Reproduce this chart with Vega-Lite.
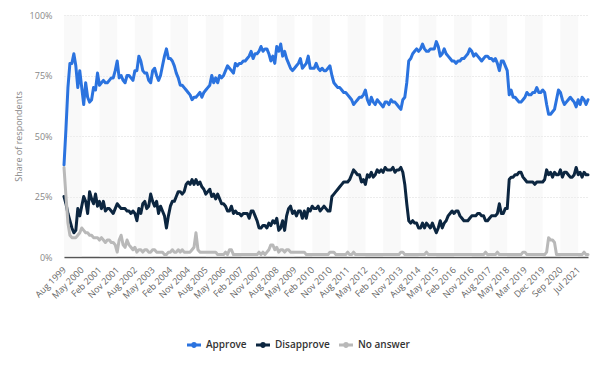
{
"$schema":"https://vega.github.io/schema/vega-lite/v6.json",
"width":524,"height":242,
"autosize":{"type":"none"},
"padding":{"left":64,"top":15,"right":12,"bottom":109},
"background":"white",
"config":{"view":{"stroke":null},"font":"Open Sans"},
"resolve":{"axis":{"x":"independent","y":"independent"}},
"datasets":{
"bands":[
{"from":"Aug 1999","to":"May 2000"},{"from":"Feb 2001","to":"Nov 2001"},{"from":"Aug 2002","to":"May 2003"},{"from":"Feb 2004","to":"Nov 2004"},{"from":"Aug 2005","to":"May 2006"},{"from":"Feb 2007","to":"Nov 2007"},{"from":"Aug 2008","to":"May 2009"},{"from":"Feb 2010","to":"Nov 2010"},{"from":"Aug 2011","to":"May 2012"},{"from":"Feb 2013","to":"Nov 2013"},{"from":"Aug 2014","to":"May 2015"},{"from":"Feb 2016","to":"Nov 2016"},{"from":"Aug 2017","to":"May 2018"},{"from":"Mar 2019","to":"Dec 2019"},{"from":"Sep 2020","to":"Jul 2021"}],
"approval":[
{"m":"Aug 1999","Approve":38,"Disapprove":25,"No answer":37},
{"m":"Sep 1999","Approve":53,"Disapprove":22,"No answer":25},
{"m":"Oct 1999","Approve":70,"Disapprove":18,"No answer":14},
{"m":"Nov 1999","Approve":80,"Disapprove":15,"No answer":9},
{"m":"Dec 1999","Approve":80,"Disapprove":12,"No answer":8},
{"m":"Jan 2000","Approve":84,"Disapprove":10,"No answer":8},
{"m":"Feb 2000","Approve":79,"Disapprove":11,"No answer":8},
{"m":"Mar 2000","Approve":70,"Disapprove":20,"No answer":9},
{"m":"Apr 2000","Approve":77,"Disapprove":17,"No answer":10},
{"m":"May 2000","Approve":70,"Disapprove":21,"No answer":12},
{"m":"Jun 2000","Approve":63,"Disapprove":25,"No answer":11},
{"m":"Jul 2000","Approve":72,"Disapprove":23,"No answer":10},
{"m":"Aug 2000","Approve":66,"Disapprove":18,"No answer":10},
{"m":"Sep 2000","Approve":64,"Disapprove":27,"No answer":9},
{"m":"Oct 2000","Approve":65,"Disapprove":24,"No answer":9},
{"m":"Nov 2000","Approve":70,"Disapprove":22,"No answer":8},
{"m":"Dec 2000","Approve":69,"Disapprove":26,"No answer":8},
{"m":"Jan 2001","Approve":76,"Disapprove":21,"No answer":8},
{"m":"Feb 2001","Approve":71,"Disapprove":23,"No answer":7},
{"m":"Mar 2001","Approve":72,"Disapprove":20,"No answer":8},
{"m":"Apr 2001","Approve":73,"Disapprove":23,"No answer":7},
{"m":"May 2001","Approve":72,"Disapprove":19,"No answer":6},
{"m":"Jun 2001","Approve":72,"Disapprove":20,"No answer":7},
{"m":"Jul 2001","Approve":73,"Disapprove":20,"No answer":7},
{"m":"Aug 2001","Approve":74,"Disapprove":19,"No answer":6},
{"m":"Sep 2001","Approve":74,"Disapprove":18,"No answer":6},
{"m":"Oct 2001","Approve":77,"Disapprove":20,"No answer":5},
{"m":"Nov 2001","Approve":81,"Disapprove":22,"No answer":2},
{"m":"Dec 2001","Approve":74,"Disapprove":21,"No answer":7},
{"m":"Jan 2002","Approve":75,"Disapprove":20,"No answer":9},
{"m":"Feb 2002","Approve":73,"Disapprove":20,"No answer":5},
{"m":"Mar 2002","Approve":72,"Disapprove":20,"No answer":4},
{"m":"Apr 2002","Approve":75,"Disapprove":19,"No answer":7},
{"m":"May 2002","Approve":75,"Disapprove":19,"No answer":5},
{"m":"Jun 2002","Approve":74,"Disapprove":18,"No answer":4},
{"m":"Jul 2002","Approve":73,"Disapprove":19,"No answer":3},
{"m":"Aug 2002","Approve":77,"Disapprove":18,"No answer":4},
{"m":"Sep 2002","Approve":77,"Disapprove":15,"No answer":2},
{"m":"Oct 2002","Approve":83,"Disapprove":20,"No answer":3},
{"m":"Nov 2002","Approve":81,"Disapprove":18,"No answer":3},
{"m":"Dec 2002","Approve":77,"Disapprove":22,"No answer":2},
{"m":"Jan 2003","Approve":76,"Disapprove":23,"No answer":3},
{"m":"Feb 2003","Approve":76,"Disapprove":20,"No answer":3},
{"m":"Mar 2003","Approve":73,"Disapprove":21,"No answer":2},
{"m":"Apr 2003","Approve":72,"Disapprove":26,"No answer":2},
{"m":"May 2003","Approve":77,"Disapprove":23,"No answer":3},
{"m":"Jun 2003","Approve":78,"Disapprove":21,"No answer":3},
{"m":"Jul 2003","Approve":75,"Disapprove":23,"No answer":2},
{"m":"Aug 2003","Approve":73,"Disapprove":18,"No answer":2},
{"m":"Sep 2003","Approve":75,"Disapprove":21,"No answer":2},
{"m":"Oct 2003","Approve":79,"Disapprove":19,"No answer":2},
{"m":"Nov 2003","Approve":83,"Disapprove":17,"No answer":1},
{"m":"Dec 2003","Approve":86,"Disapprove":12,"No answer":1},
{"m":"Jan 2004","Approve":82,"Disapprove":17,"No answer":2},
{"m":"Feb 2004","Approve":82,"Disapprove":21,"No answer":2},
{"m":"Mar 2004","Approve":81,"Disapprove":23,"No answer":3},
{"m":"Apr 2004","Approve":79,"Disapprove":23,"No answer":2},
{"m":"May 2004","Approve":76,"Disapprove":25,"No answer":2},
{"m":"Jun 2004","Approve":74,"Disapprove":27,"No answer":3},
{"m":"Jul 2004","Approve":71,"Disapprove":27,"No answer":2},
{"m":"Aug 2004","Approve":71,"Disapprove":26,"No answer":3},
{"m":"Sep 2004","Approve":70,"Disapprove":27,"No answer":2},
{"m":"Oct 2004","Approve":69,"Disapprove":30,"No answer":2},
{"m":"Nov 2004","Approve":68,"Disapprove":31,"No answer":2},
{"m":"Dec 2004","Approve":67,"Disapprove":30,"No answer":2},
{"m":"Jan 2005","Approve":65,"Disapprove":32,"No answer":3},
{"m":"Feb 2005","Approve":66,"Disapprove":30,"No answer":4},
{"m":"Mar 2005","Approve":66,"Disapprove":32,"No answer":10},
{"m":"Apr 2005","Approve":67,"Disapprove":30,"No answer":3},
{"m":"May 2005","Approve":68,"Disapprove":31,"No answer":2},
{"m":"Jun 2005","Approve":66,"Disapprove":29,"No answer":2},
{"m":"Jul 2005","Approve":68,"Disapprove":28,"No answer":2},
{"m":"Aug 2005","Approve":69,"Disapprove":26,"No answer":2},
{"m":"Sep 2005","Approve":70,"Disapprove":27,"No answer":2},
{"m":"Oct 2005","Approve":71,"Disapprove":28,"No answer":2},
{"m":"Nov 2005","Approve":75,"Disapprove":25,"No answer":2},
{"m":"Dec 2005","Approve":72,"Disapprove":26,"No answer":2},
{"m":"Jan 2006","Approve":74,"Disapprove":24,"No answer":2},
{"m":"Feb 2006","Approve":72,"Disapprove":26,"No answer":1},
{"m":"Mar 2006","Approve":75,"Disapprove":24,"No answer":1},
{"m":"Apr 2006","Approve":74,"Disapprove":22,"No answer":1},
{"m":"May 2006","Approve":75,"Disapprove":22,"No answer":1},
{"m":"Jun 2006","Approve":77,"Disapprove":21,"No answer":2},
{"m":"Jul 2006","Approve":79,"Disapprove":19,"No answer":1},
{"m":"Aug 2006","Approve":78,"Disapprove":19,"No answer":3},
{"m":"Sep 2006","Approve":77,"Disapprove":21,"No answer":3},
{"m":"Oct 2006","Approve":76,"Disapprove":18,"No answer":1},
{"m":"Nov 2006","Approve":80,"Disapprove":19,"No answer":1},
{"m":"Dec 2006","Approve":79,"Disapprove":18,"No answer":1},
{"m":"Jan 2007","Approve":80,"Disapprove":18,"No answer":1},
{"m":"Feb 2007","Approve":80,"Disapprove":17,"No answer":1},
{"m":"Mar 2007","Approve":81,"Disapprove":18,"No answer":1},
{"m":"Apr 2007","Approve":81,"Disapprove":18,"No answer":1},
{"m":"May 2007","Approve":82,"Disapprove":18,"No answer":1},
{"m":"Jun 2007","Approve":83,"Disapprove":16,"No answer":1},
{"m":"Jul 2007","Approve":85,"Disapprove":19,"No answer":1},
{"m":"Aug 2007","Approve":82,"Disapprove":19,"No answer":1},
{"m":"Sep 2007","Approve":84,"Disapprove":17,"No answer":1},
{"m":"Oct 2007","Approve":84,"Disapprove":15,"No answer":1},
{"m":"Nov 2007","Approve":85,"Disapprove":12,"No answer":2},
{"m":"Dec 2007","Approve":87,"Disapprove":12,"No answer":1},
{"m":"Jan 2008","Approve":85,"Disapprove":13,"No answer":2},
{"m":"Feb 2008","Approve":86,"Disapprove":13,"No answer":1},
{"m":"Mar 2008","Approve":86,"Disapprove":12,"No answer":2},
{"m":"Apr 2008","Approve":84,"Disapprove":14,"No answer":3},
{"m":"May 2008","Approve":81,"Disapprove":13,"No answer":5},
{"m":"Jun 2008","Approve":83,"Disapprove":15,"No answer":5},
{"m":"Jul 2008","Approve":80,"Disapprove":14,"No answer":3},
{"m":"Aug 2008","Approve":87,"Disapprove":16,"No answer":4},
{"m":"Sep 2008","Approve":85,"Disapprove":11,"No answer":2},
{"m":"Oct 2008","Approve":88,"Disapprove":12,"No answer":3},
{"m":"Nov 2008","Approve":83,"Disapprove":15,"No answer":3},
{"m":"Dec 2008","Approve":85,"Disapprove":11,"No answer":2},
{"m":"Jan 2009","Approve":82,"Disapprove":17,"No answer":3},
{"m":"Feb 2009","Approve":80,"Disapprove":20,"No answer":3},
{"m":"Mar 2009","Approve":78,"Disapprove":21,"No answer":2},
{"m":"Apr 2009","Approve":77,"Disapprove":18,"No answer":2},
{"m":"May 2009","Approve":78,"Disapprove":19,"No answer":2},
{"m":"Jun 2009","Approve":79,"Disapprove":17,"No answer":2},
{"m":"Jul 2009","Approve":80,"Disapprove":19,"No answer":2},
{"m":"Aug 2009","Approve":82,"Disapprove":19,"No answer":2},
{"m":"Sep 2009","Approve":78,"Disapprove":16,"No answer":2},
{"m":"Oct 2009","Approve":79,"Disapprove":19,"No answer":2},
{"m":"Nov 2009","Approve":80,"Disapprove":16,"No answer":1},
{"m":"Dec 2009","Approve":83,"Disapprove":20,"No answer":1},
{"m":"Jan 2010","Approve":78,"Disapprove":19,"No answer":1},
{"m":"Feb 2010","Approve":78,"Disapprove":21,"No answer":1},
{"m":"Mar 2010","Approve":78,"Disapprove":20,"No answer":1},
{"m":"Apr 2010","Approve":80,"Disapprove":20,"No answer":1},
{"m":"May 2010","Approve":78,"Disapprove":21,"No answer":1},
{"m":"Jun 2010","Approve":77,"Disapprove":19,"No answer":1},
{"m":"Jul 2010","Approve":78,"Disapprove":20,"No answer":1},
{"m":"Aug 2010","Approve":77,"Disapprove":21,"No answer":1},
{"m":"Sep 2010","Approve":77,"Disapprove":20,"No answer":1},
{"m":"Oct 2010","Approve":78,"Disapprove":19,"No answer":1},
{"m":"Nov 2010","Approve":79,"Disapprove":19,"No answer":2},
{"m":"Dec 2010","Approve":75,"Disapprove":25,"No answer":2},
{"m":"Jan 2011","Approve":72,"Disapprove":26,"No answer":2},
{"m":"Feb 2011","Approve":71,"Disapprove":27,"No answer":1},
{"m":"Mar 2011","Approve":70,"Disapprove":28,"No answer":1},
{"m":"Apr 2011","Approve":70,"Disapprove":29,"No answer":1},
{"m":"May 2011","Approve":69,"Disapprove":30,"No answer":1},
{"m":"Jun 2011","Approve":68,"Disapprove":31,"No answer":1},
{"m":"Jul 2011","Approve":68,"Disapprove":31,"No answer":1},
{"m":"Aug 2011","Approve":67,"Disapprove":31,"No answer":2},
{"m":"Sep 2011","Approve":66,"Disapprove":32,"No answer":1},
{"m":"Oct 2011","Approve":65,"Disapprove":34,"No answer":1},
{"m":"Nov 2011","Approve":63,"Disapprove":36,"No answer":2},
{"m":"Dec 2011","Approve":64,"Disapprove":35,"No answer":1},
{"m":"Jan 2012","Approve":65,"Disapprove":34,"No answer":1},
{"m":"Feb 2012","Approve":66,"Disapprove":34,"No answer":1},
{"m":"Mar 2012","Approve":66,"Disapprove":31,"No answer":1},
{"m":"Apr 2012","Approve":67,"Disapprove":32,"No answer":1},
{"m":"May 2012","Approve":69,"Disapprove":30,"No answer":1},
{"m":"Jun 2012","Approve":65,"Disapprove":34,"No answer":1},
{"m":"Jul 2012","Approve":63,"Disapprove":33,"No answer":1},
{"m":"Aug 2012","Approve":66,"Disapprove":35,"No answer":1},
{"m":"Sep 2012","Approve":64,"Disapprove":33,"No answer":1},
{"m":"Oct 2012","Approve":63,"Disapprove":34,"No answer":1},
{"m":"Nov 2012","Approve":65,"Disapprove":36,"No answer":1},
{"m":"Dec 2012","Approve":64,"Disapprove":35,"No answer":1},
{"m":"Jan 2013","Approve":63,"Disapprove":36,"No answer":1},
{"m":"Feb 2013","Approve":62,"Disapprove":35,"No answer":1},
{"m":"Mar 2013","Approve":64,"Disapprove":37,"No answer":1},
{"m":"Apr 2013","Approve":64,"Disapprove":36,"No answer":1},
{"m":"May 2013","Approve":63,"Disapprove":36,"No answer":1},
{"m":"Jun 2013","Approve":65,"Disapprove":36,"No answer":1},
{"m":"Jul 2013","Approve":64,"Disapprove":37,"No answer":1},
{"m":"Aug 2013","Approve":64,"Disapprove":35,"No answer":1},
{"m":"Sep 2013","Approve":63,"Disapprove":36,"No answer":1},
{"m":"Oct 2013","Approve":62,"Disapprove":36,"No answer":1},
{"m":"Nov 2013","Approve":61,"Disapprove":37,"No answer":2},
{"m":"Dec 2013","Approve":65,"Disapprove":35,"No answer":2},
{"m":"Jan 2014","Approve":66,"Disapprove":30,"No answer":1},
{"m":"Feb 2014","Approve":72,"Disapprove":22,"No answer":1},
{"m":"Mar 2014","Approve":81,"Disapprove":15,"No answer":1},
{"m":"Apr 2014","Approve":82,"Disapprove":14,"No answer":1},
{"m":"May 2014","Approve":84,"Disapprove":15,"No answer":1},
{"m":"Jun 2014","Approve":85,"Disapprove":14,"No answer":1},
{"m":"Jul 2014","Approve":86,"Disapprove":14,"No answer":1},
{"m":"Aug 2014","Approve":85,"Disapprove":12,"No answer":1},
{"m":"Sep 2014","Approve":86,"Disapprove":12,"No answer":1},
{"m":"Oct 2014","Approve":88,"Disapprove":14,"No answer":1},
{"m":"Nov 2014","Approve":86,"Disapprove":12,"No answer":1},
{"m":"Dec 2014","Approve":85,"Disapprove":14,"No answer":2},
{"m":"Jan 2015","Approve":85,"Disapprove":13,"No answer":1},
{"m":"Feb 2015","Approve":86,"Disapprove":12,"No answer":1},
{"m":"Mar 2015","Approve":86,"Disapprove":14,"No answer":1},
{"m":"Apr 2015","Approve":86,"Disapprove":12,"No answer":1},
{"m":"May 2015","Approve":89,"Disapprove":10,"No answer":1},
{"m":"Jun 2015","Approve":87,"Disapprove":12,"No answer":1},
{"m":"Jul 2015","Approve":83,"Disapprove":15,"No answer":1},
{"m":"Aug 2015","Approve":84,"Disapprove":12,"No answer":1},
{"m":"Sep 2015","Approve":86,"Disapprove":14,"No answer":1},
{"m":"Oct 2015","Approve":84,"Disapprove":15,"No answer":1},
{"m":"Nov 2015","Approve":83,"Disapprove":17,"No answer":1},
{"m":"Dec 2015","Approve":82,"Disapprove":18,"No answer":1},
{"m":"Jan 2016","Approve":81,"Disapprove":19,"No answer":1},
{"m":"Feb 2016","Approve":81,"Disapprove":18,"No answer":1},
{"m":"Mar 2016","Approve":80,"Disapprove":19,"No answer":1},
{"m":"Apr 2016","Approve":81,"Disapprove":19,"No answer":1},
{"m":"May 2016","Approve":81,"Disapprove":17,"No answer":1},
{"m":"Jun 2016","Approve":82,"Disapprove":16,"No answer":1},
{"m":"Jul 2016","Approve":82,"Disapprove":15,"No answer":1},
{"m":"Aug 2016","Approve":83,"Disapprove":15,"No answer":1},
{"m":"Sep 2016","Approve":84,"Disapprove":15,"No answer":1},
{"m":"Oct 2016","Approve":86,"Disapprove":16,"No answer":1},
{"m":"Nov 2016","Approve":85,"Disapprove":17,"No answer":1},
{"m":"Dec 2016","Approve":83,"Disapprove":17,"No answer":1},
{"m":"Jan 2017","Approve":84,"Disapprove":17,"No answer":1},
{"m":"Feb 2017","Approve":83,"Disapprove":18,"No answer":1},
{"m":"Mar 2017","Approve":82,"Disapprove":18,"No answer":1},
{"m":"Apr 2017","Approve":81,"Disapprove":17,"No answer":1},
{"m":"May 2017","Approve":82,"Disapprove":17,"No answer":1},
{"m":"Jun 2017","Approve":83,"Disapprove":15,"No answer":2},
{"m":"Jul 2017","Approve":83,"Disapprove":15,"No answer":1},
{"m":"Aug 2017","Approve":82,"Disapprove":16,"No answer":1},
{"m":"Sep 2017","Approve":82,"Disapprove":17,"No answer":1},
{"m":"Oct 2017","Approve":81,"Disapprove":17,"No answer":1},
{"m":"Nov 2017","Approve":82,"Disapprove":17,"No answer":1},
{"m":"Dec 2017","Approve":80,"Disapprove":18,"No answer":2},
{"m":"Jan 2018","Approve":77,"Disapprove":22,"No answer":1},
{"m":"Feb 2018","Approve":81,"Disapprove":18,"No answer":1},
{"m":"Mar 2018","Approve":81,"Disapprove":18,"No answer":1},
{"m":"Apr 2018","Approve":79,"Disapprove":20,"No answer":1},
{"m":"May 2018","Approve":77,"Disapprove":20,"No answer":1},
{"m":"Jun 2018","Approve":67,"Disapprove":32,"No answer":1},
{"m":"Jul 2018","Approve":69,"Disapprove":33,"No answer":1},
{"m":"Aug 2018","Approve":66,"Disapprove":33,"No answer":1},
{"m":"Sep 2018","Approve":66,"Disapprove":34,"No answer":1},
{"m":"Oct 2018","Approve":65,"Disapprove":34,"No answer":1},
{"m":"Nov 2018","Approve":64,"Disapprove":35,"No answer":1},
{"m":"Dec 2018","Approve":64,"Disapprove":35,"No answer":1},
{"m":"Feb 2019","Approve":65,"Disapprove":33,"No answer":2},
{"m":"Mar 2019","Approve":66,"Disapprove":32,"No answer":2},
{"m":"Apr 2019","Approve":68,"Disapprove":31,"No answer":1},
{"m":"May 2019","Approve":67,"Disapprove":31,"No answer":1},
{"m":"Jun 2019","Approve":67,"Disapprove":31,"No answer":1},
{"m":"Jul 2019","Approve":68,"Disapprove":31,"No answer":1},
{"m":"Aug 2019","Approve":68,"Disapprove":30,"No answer":1},
{"m":"Sep 2019","Approve":70,"Disapprove":31,"No answer":1},
{"m":"Oct 2019","Approve":68,"Disapprove":31,"No answer":1},
{"m":"Nov 2019","Approve":68,"Disapprove":31,"No answer":1},
{"m":"Dec 2019","Approve":69,"Disapprove":31,"No answer":1},
{"m":"Jan 2020","Approve":68,"Disapprove":32,"No answer":1},
{"m":"Feb 2020","Approve":63,"Disapprove":36,"No answer":2},
{"m":"Mar 2020","Approve":59,"Disapprove":34,"No answer":8},
{"m":"Apr 2020","Approve":59,"Disapprove":35,"No answer":7},
{"m":"May 2020","Approve":60,"Disapprove":33,"No answer":7},
{"m":"Jun 2020","Approve":61,"Disapprove":35,"No answer":6},
{"m":"Jul 2020","Approve":65,"Disapprove":34,"No answer":1},
{"m":"Aug 2020","Approve":69,"Disapprove":34,"No answer":1},
{"m":"Sep 2020","Approve":68,"Disapprove":36,"No answer":1},
{"m":"Oct 2020","Approve":65,"Disapprove":33,"No answer":1},
{"m":"Nov 2020","Approve":63,"Disapprove":35,"No answer":1},
{"m":"Dec 2020","Approve":64,"Disapprove":35,"No answer":1},
{"m":"Feb 2021","Approve":65,"Disapprove":34,"No answer":1},
{"m":"Mar 2021","Approve":66,"Disapprove":33,"No answer":1},
{"m":"Apr 2021","Approve":65,"Disapprove":33,"No answer":1},
{"m":"May 2021","Approve":64,"Disapprove":34,"No answer":1},
{"m":"Jun 2021","Approve":62,"Disapprove":37,"No answer":1},
{"m":"Jul 2021","Approve":65,"Disapprove":34,"No answer":1},
{"m":"Aug 2021","Approve":63,"Disapprove":35,"No answer":1},
{"m":"Sep 2021","Approve":66,"Disapprove":33,"No answer":1},
{"m":"Oct 2021","Approve":65,"Disapprove":35,"No answer":2},
{"m":"Nov 2021","Approve":63,"Disapprove":34,"No answer":1},
{"m":"Dec 2021","Approve":65,"Disapprove":34,"No answer":1}
]},
"layer":[
{"data":{"name":"bands"},
 "mark":{"type":"rect","color":"#f0f0f0","opacity":0.4},
 "encoding":{
  "x":{"field":"from","type":"ordinal","axis":null,
   "scale":{"type":"point","padding":0,"domain":["Aug 1999","Sep 1999","Oct 1999","Nov 1999","Dec 1999","Jan 2000","Feb 2000","Mar 2000","Apr 2000","May 2000","Jun 2000","Jul 2000","Aug 2000","Sep 2000","Oct 2000","Nov 2000","Dec 2000","Jan 2001","Feb 2001","Mar 2001","Apr 2001","May 2001","Jun 2001","Jul 2001","Aug 2001","Sep 2001","Oct 2001","Nov 2001","Dec 2001","Jan 2002","Feb 2002","Mar 2002","Apr 2002","May 2002","Jun 2002","Jul 2002","Aug 2002","Sep 2002","Oct 2002","Nov 2002","Dec 2002","Jan 2003","Feb 2003","Mar 2003","Apr 2003","May 2003","Jun 2003","Jul 2003","Aug 2003","Sep 2003","Oct 2003","Nov 2003","Dec 2003","Jan 2004","Feb 2004","Mar 2004","Apr 2004","May 2004","Jun 2004","Jul 2004","Aug 2004","Sep 2004","Oct 2004","Nov 2004","Dec 2004","Jan 2005","Feb 2005","Mar 2005","Apr 2005","May 2005","Jun 2005","Jul 2005","Aug 2005","Sep 2005","Oct 2005","Nov 2005","Dec 2005","Jan 2006","Feb 2006","Mar 2006","Apr 2006","May 2006","Jun 2006","Jul 2006","Aug 2006","Sep 2006","Oct 2006","Nov 2006","Dec 2006","Jan 2007","Feb 2007","Mar 2007","Apr 2007","May 2007","Jun 2007","Jul 2007","Aug 2007","Sep 2007","Oct 2007","Nov 2007","Dec 2007","Jan 2008","Feb 2008","Mar 2008","Apr 2008","May 2008","Jun 2008","Jul 2008","Aug 2008","Sep 2008","Oct 2008","Nov 2008","Dec 2008","Jan 2009","Feb 2009","Mar 2009","Apr 2009","May 2009","Jun 2009","Jul 2009","Aug 2009","Sep 2009","Oct 2009","Nov 2009","Dec 2009","Jan 2010","Feb 2010","Mar 2010","Apr 2010","May 2010","Jun 2010","Jul 2010","Aug 2010","Sep 2010","Oct 2010","Nov 2010","Dec 2010","Jan 2011","Feb 2011","Mar 2011","Apr 2011","May 2011","Jun 2011","Jul 2011","Aug 2011","Sep 2011","Oct 2011","Nov 2011","Dec 2011","Jan 2012","Feb 2012","Mar 2012","Apr 2012","May 2012","Jun 2012","Jul 2012","Aug 2012","Sep 2012","Oct 2012","Nov 2012","Dec 2012","Jan 2013","Feb 2013","Mar 2013","Apr 2013","May 2013","Jun 2013","Jul 2013","Aug 2013","Sep 2013","Oct 2013","Nov 2013","Dec 2013","Jan 2014","Feb 2014","Mar 2014","Apr 2014","May 2014","Jun 2014","Jul 2014","Aug 2014","Sep 2014","Oct 2014","Nov 2014","Dec 2014","Jan 2015","Feb 2015","Mar 2015","Apr 2015","May 2015","Jun 2015","Jul 2015","Aug 2015","Sep 2015","Oct 2015","Nov 2015","Dec 2015","Jan 2016","Feb 2016","Mar 2016","Apr 2016","May 2016","Jun 2016","Jul 2016","Aug 2016","Sep 2016","Oct 2016","Nov 2016","Dec 2016","Jan 2017","Feb 2017","Mar 2017","Apr 2017","May 2017","Jun 2017","Jul 2017","Aug 2017","Sep 2017","Oct 2017","Nov 2017","Dec 2017","Jan 2018","Feb 2018","Mar 2018","Apr 2018","May 2018","Jun 2018","Jul 2018","Aug 2018","Sep 2018","Oct 2018","Nov 2018","Dec 2018","Feb 2019","Mar 2019","Apr 2019","May 2019","Jun 2019","Jul 2019","Aug 2019","Sep 2019","Oct 2019","Nov 2019","Dec 2019","Jan 2020","Feb 2020","Mar 2020","Apr 2020","May 2020","Jun 2020","Jul 2020","Aug 2020","Sep 2020","Oct 2020","Nov 2020","Dec 2020","Feb 2021","Mar 2021","Apr 2021","May 2021","Jun 2021","Jul 2021","Aug 2021","Sep 2021","Oct 2021","Nov 2021","Dec 2021"]}},
  "x2":{"field":"to"},
  "y":{"datum":100,"type":"quantitative","axis":null,"scale":{"domain":[0,100],"nice":false}},
  "y2":{"datum":0}
 }},
{"data":{"name":"approval"},
 "transform":[{"fold":["Approve","Disapprove","No answer"],"as":["series","value"]}],
 "mark":{"type":"line","strokeWidth":3,"strokeJoin":"round","strokeCap":"round"},
 "encoding":{
  "x":{"field":"m","type":"ordinal",
   "axis":{"title":null,"values":["Aug 1999","May 2000","Feb 2001","Nov 2001","Aug 2002","May 2003","Feb 2004","Nov 2004","Aug 2005","May 2006","Feb 2007","Nov 2007","Aug 2008","May 2009","Feb 2010","Nov 2010","Aug 2011","May 2012","Feb 2013","Nov 2013","Aug 2014","May 2015","Feb 2016","Nov 2016","Aug 2017","May 2018","Mar 2019","Dec 2019","Sep 2020","Jul 2021"],
    "labelAngle":-45,"labelAlign":"right","labelBaseline":"middle","labelPadding":11,"ticks":false,"grid":false,"domain":true,"domainColor":"#555555","domainWidth":1.5,"labelColor":"#666666","labelFontSize":9,"labelOverlap":false,"labelFont":"Open Sans"}},
  "y":{"field":"value","type":"quantitative","scale":{"domain":[0,100],"nice":false},
   "axis":{"values":[0,25,50,75,100],"labelExpr":"datum.value + '%'","ticks":false,"domain":false,"grid":true,"gridDash":[1,2],"gridColor":"#d9d9d9","gridWidth":1,"labelColor":"#888888","labelFontSize":9,"labelPadding":12,"labelFont":"Open Sans","title":"Share of respondents","titleColor":"#888888","titleFontSize":9,"titleFontWeight":"normal","titleFont":"Open Sans","titlePadding":6}},
  "color":{"field":"series","type":"nominal",
   "scale":{"domain":["Approve","Disapprove","No answer"],"range":["#2b73df","#0c2640","#b9b9b9"]},
   "legend":{"orient":"none","legendX":123,"legendY":323,"direction":"horizontal","title":null,
    "symbolType":"M-1,-0.2L1,-0.2L1,0.2L-1,0.2Z M0.42,0A0.42,0.42 0 1,1 -0.42,0A0.42,0.42 0 1,1 0.42,0Z",
    "symbolSize":196,"symbolStrokeWidth":0,"labelFontSize":10,"labelFontWeight":600,"labelColor":"#333333","labelFont":"Open Sans","columnPadding":9,"labelOffset":5,
    "encode":{"symbols":{"update":{"fill":{"scale":"color","field":"value"},"stroke":{"value":"transparent"}}}}}}
 }}
]
}
